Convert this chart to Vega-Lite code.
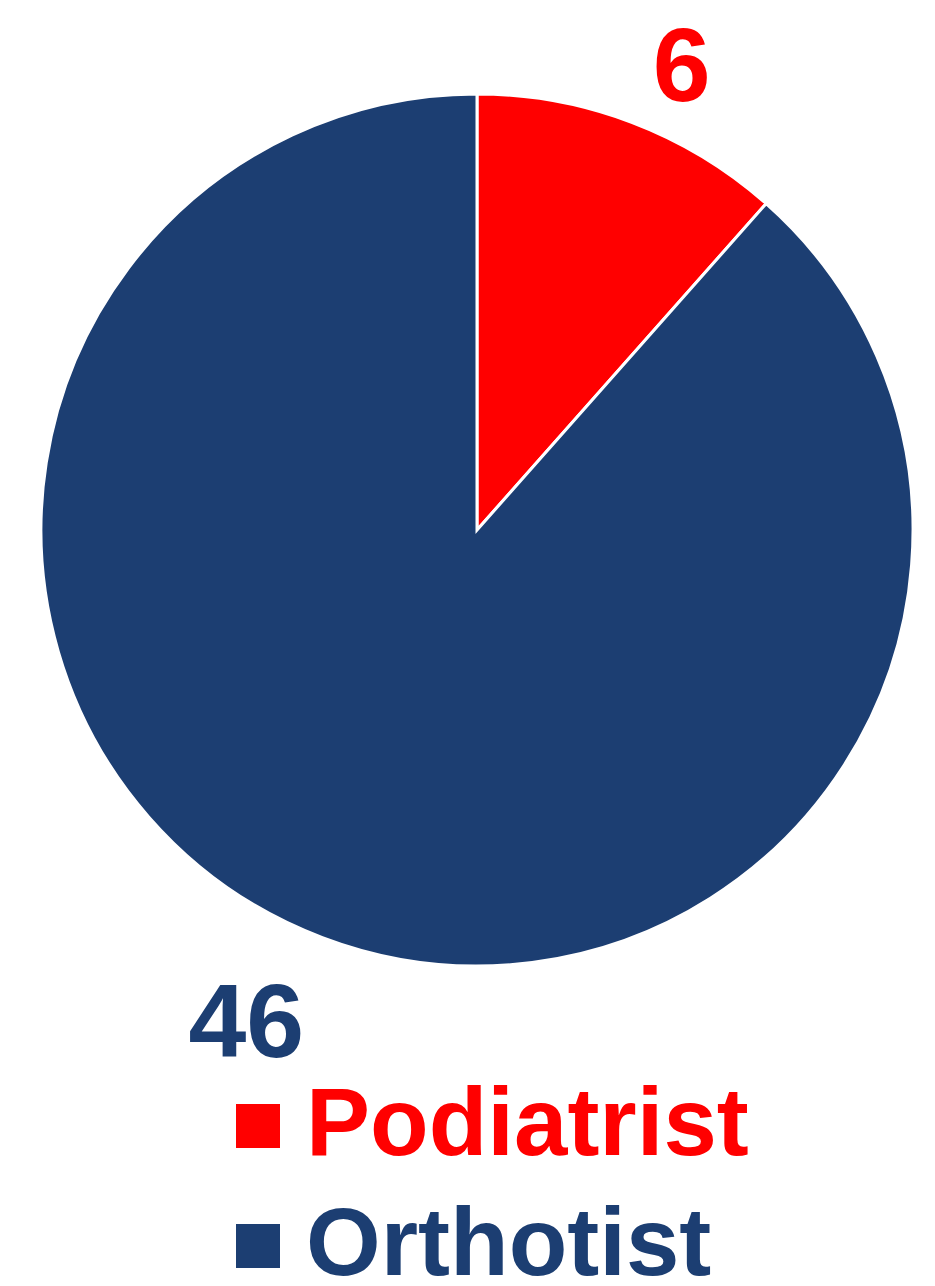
{
  "$schema": "https://vega.github.io/schema/vega-lite/v6.json",
  "width": 954,
  "height": 1060,
  "autosize": {"type": "none"},
  "padding": {"left": 0, "top": 0, "right": 0, "bottom": 226},
  "background": "white",
  "config": {"view": {"stroke": null}, "font": "Liberation Sans"},
  "data": {"values": [
    {"role": "Podiatrist", "n": 6, "k": 1},
    {"role": "Orthotist", "n": 46, "k": 2}
  ]},
  "encoding": {
    "theta": {"field": "n", "type": "quantitative", "stack": true},
    "order": {"field": "k", "type": "quantitative"},
    "color": {
      "field": "role", "type": "nominal",
      "scale": {"domain": ["Podiatrist", "Orthotist"], "range": ["#ff0000", "#1c3e72"]},
      "legend": {
        "title": null,
        "orient": "none",
        "legendX": 210,
        "legendY": 1078,
        "symbolType": "square",
        "symbolSize": 1936,
        "symbolStrokeWidth": 0,
        "labelFont": "Liberation Sans",
        "labelFontSize": 96,
        "labelFontWeight": "bold",
        "labelOffset": 0,
        "labelLimit": 800,
        "rowPadding": 24,
        "padding": 0,
        "encode": {
          "labels": {"update": {"fill": {"signal": "datum.value === 'Podiatrist' ? '#ff0000' : '#1c3e72'"}}}
        }
      }
    }
  },
  "layer": [
    {"mark": {"type": "arc", "outerRadius": 436, "stroke": "white", "strokeWidth": 3}},
    {
      "mark": {"type": "text", "radius": 525, "thetaOffset": 0.065, "dx": -13, "dy": 18, "font": "Liberation Sans", "fontSize": 104, "fontWeight": "bold", "align": "center", "baseline": "middle"},
      "encoding": {"text": {"field": "n", "type": "quantitative"}}
    }
  ]
}
